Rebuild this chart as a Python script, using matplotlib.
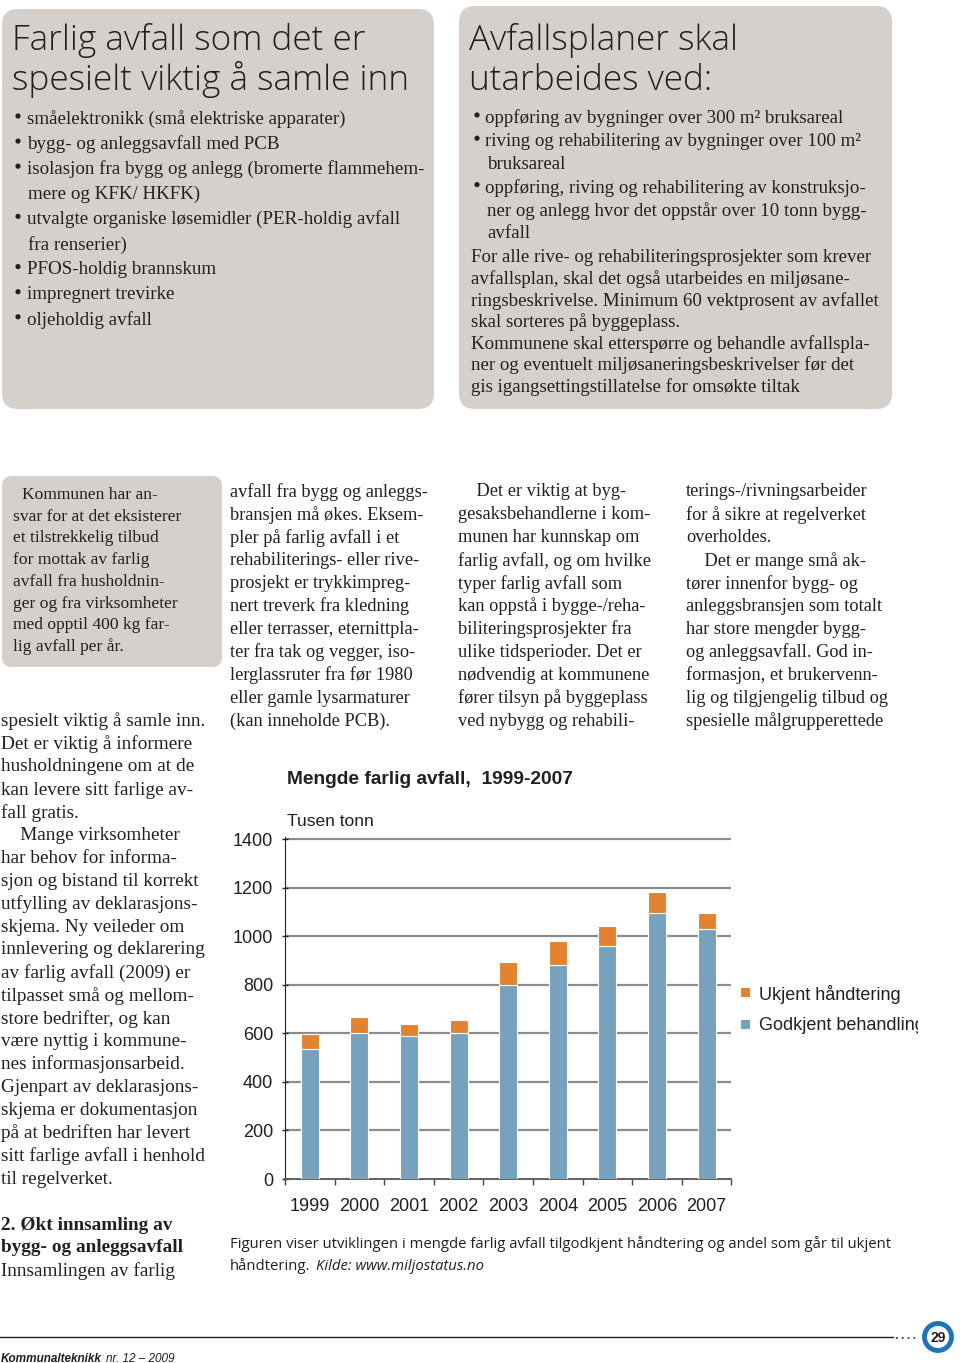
import matplotlib
matplotlib.use("Agg")
import matplotlib.pyplot as plt
import numpy as np
from matplotlib.patches import FancyBboxPatch, Rectangle, Circle
from matplotlib.transforms import Bbox, TransformedBbox

# chart data (tusen tonn)
years = ['1999', '2000', '2001', '2002', '2003', '2004', '2005', '2006', '2007']
godkjent = [535, 602, 590, 600, 800, 882, 960, 1097, 1028]
ukjent = [63, 66, 50, 54, 95, 97, 82, 83, 69]
yticks = [0, 200, 400, 600, 800, 1000, 1200, 1400]

chart_title = 'Mengde farlig avfall,  1999-2007'
unit_label = 'Tusen tonn'
legend_labels = ['Ukjent håndtering', 'Godkjent behandling']

box1_title = ['Farlig avfall som det er', 'spesielt viktig å samle inn']
box1_items = [
    ['småelektronikk (små elektriske apparater)'],
    ['bygg- og anleggsavfall med PCB'],
    ['isolasjon fra bygg og anlegg (bromerte flammehem-', 'mere og KFK/ HKFK)'],
    ['utvalgte organiske løsemidler (PER-holdig avfall', 'fra renserier)'],
    ['PFOS-holdig brannskum'],
    ['impregnert trevirke'],
    ['oljeholdig avfall'],
]

box2_title = ['Avfallsplaner skal', 'utarbeides ved:']
box2_items = [
    ['oppføring av bygninger over 300 m² bruksareal'],
    ['riving og rehabilitering av bygninger over 100 m²', 'bruksareal'],
    ['oppføring, riving og rehabilitering av konstruksjo-',
     'ner og anlegg hvor det oppstår over 10 tonn bygg-', 'avfall'],
]
box2_text = [
    'For alle rive- og rehabiliteringsprosjekter som krever',
    'avfallsplan, skal det også utarbeides en miljøsane-',
    'ringsbeskrivelse. Minimum 60 vektprosent av avfallet',
    'skal sorteres på byggeplass.',
    'Kommunene skal etterspørre og behandle avfallspla-',
    'ner og eventuelt miljøsaneringsbeskrivelser før det',
    'gis igangsettingstillatelse for omsøkte tiltak',
]

box3_text = [
    'Kommunen har an-', 'svar for at det eksisterer', 'et tilstrekkelig tilbud',
    'for mottak av farlig', 'avfall fra husholdnin-', 'ger og fra virksomheter',
    'med opptil 400 kg far-', 'lig avfall per år.',
]

col1_text = [
    'spesielt viktig å samle inn.', 'Det er viktig å informere',
    'husholdningene om at de', 'kan levere sitt farlige av-', 'fall gratis.',
    '\u2003Mange virksomheter', 'har behov for informa-',
    'sjon og bistand til korrekt', 'utfylling av deklarasjons-',
    'skjema. Ny veileder om', 'innlevering og deklarering',
    'av farlig avfall (2009) er', 'tilpasset små og mellom-',
    'store bedrifter, og kan', 'være nyttig i kommune-',
    'nes informasjonsarbeid.', 'Gjenpart av deklarasjons-',
    'skjema er dokumentasjon', 'på at bedriften har levert',
    'sitt farlige avfall i henhold', 'til regelverket.',
]
col1_head = ['2. Økt innsamling av', 'bygg- og anleggsavfall']
col1_tail = 'Innsamlingen av farlig'

col2_text = [
    'avfall fra bygg og anleggs-', 'bransjen må økes. Eksem-',
    'pler på farlig avfall i et', 'rehabiliterings- eller rive-',
    'prosjekt er trykkimpreg-', 'nert treverk fra kledning',
    'eller terrasser, eternittpla-', 'ter fra tak og vegger, iso-',
    'lerglassruter fra før 1980', 'eller gamle lysarmaturer',
    '(kan inneholde PCB).',
]
col3_text = [
    '\u2003Det er viktig at byg-', 'gesaksbehandlerne i kom-',
    'munen har kunnskap om', 'farlig avfall, og om hvilke',
    'typer farlig avfall som', 'kan oppstå i bygge-/reha-',
    'biliteringsprosjekter fra', 'ulike tidsperioder. Det er',
    'nødvendig at kommunene', 'fører tilsyn på byggeplass',
    'ved nybygg og rehabili-',
]
col4_text = [
    'terings-/rivningsarbeider', 'for å sikre at regelverket',
    'overholdes.', '\u2003Det er mange små ak-', 'tører innenfor bygg- og',
    'anleggsbransjen som totalt', 'har store mengder bygg-',
    'og anleggsavfall. God in-', 'formasjon, et brukervenn-',
    'lig og tilgjengelig tilbud og', 'spesielle målgrupperettede',
]

caption = ['Figuren viser utviklingen i mengde farlig avfall tilgodkjent håndtering og andel som går til ukjent',
           'håndtering.']
source = 'Kilde: www.miljostatus.no'

W, H = 960, 1363
INK = '#231f20'
BOX = '#d6d0cd'
ORANGE = '#e3832f'
BLUE = '#76a2be'
SERIF = 'Liberation Serif'
SANS = 'Liberation Sans'
HEAD = 'Open Sans'

fig = plt.figure(figsize=(W / 100, H / 100), dpi=100)
bg = fig.add_axes([0, 0, 1, 1])
bg.set_xlim(0, W)
bg.set_ylim(H, 0)
bg.axis('off')


def txt(x, y, s, size=12, family=SERIF, va='center_baseline', **kw):
    return bg.text(x, y, s, fontsize=size, family=family, va=va, color=INK, **kw)


def rbox(x0, y0, x1, y1, r):
    bg.add_patch(FancyBboxPatch((x0 + r, y0 + r), x1 - x0 - 2 * r, y1 - y0 - 2 * r,
                                boxstyle='round,pad=%d' % r, fc=BOX, ec='none'))


def dot(x, y):
    bg.add_patch(Circle((x, y), 2.6, fc=INK, ec='none'))


# --- grey boxes
rbox(2, 9, 434, 409, 16)
rbox(459, 6, 892, 409, 16)
rbox(2, 476, 222, 667, 10)

# box 1
for i, line in enumerate(box1_title):
    txt(12, 50 + 40 * i, line, size=25.4, family=HEAD, va='baseline', fontweight='light')
y = 117
for item in box1_items:
    dot(18, y - 1)
    for j, line in enumerate(item):
        txt(27 if j == 0 else 28, y, line, size=13.7)
        y += 25.1

# box 2
for i, line in enumerate(box2_title):
    txt(469, 50 + 40 * i, line, size=25.4, family=HEAD, va='baseline', fontweight='light')
y = 116
for item in box2_items:
    dot(477, y - 1)
    for j, line in enumerate(item):
        txt(485 if j == 0 else 487, y, line, size=13.6)
        y += 23.2
for i, line in enumerate(box2_text):
    txt(471, 256 + 21.5 * i, line, size=13.6)

# box 3
for i, line in enumerate(box3_text):
    txt(22 if i == 0 else 13, 493 + 21.7 * i, line, size=12.6)

# body columns
for i, line in enumerate(col1_text):
    txt(1, 719 + 22.9 * i, line, size=13.9)
for i, line in enumerate(col1_head):
    txt(1, 1223 + 23 * i, line, size=13.9, fontweight='bold')
txt(1, 1269, col1_tail, size=13.9)

for x0, lines in [(230, col2_text), (458, col3_text), (686, col4_text)]:
    for i, line in enumerate(lines):
        txt(x0, 490 + 22.9 * i, line, size=13.2)

# caption
txt(230, 1242, caption[0], size=10.7, family=HEAD)
txt(230, 1264, caption[1], size=10.7, family=HEAD)
txt(316, 1264, source, size=10.7, family=HEAD, style='italic')

# footer
bg.plot([0, 893], [1337, 1337], color=INK, lw=1.0)
bg.plot([896, 918], [1338, 1338], color=INK, lw=1.2, ls=(0, (1, 2.5)))
bg.add_patch(Circle((938, 1337), 13.5, fc='white', ec='#1b75bb', lw=3.5))
txt(938, 1338, '29', size=10, family=SANS, va='center', ha='center', fontweight='bold')
txt(1, 1357, 'Kommunalteknikk', size=8.5, family=SANS, fontweight='bold', style='italic')
txt(106, 1357, 'nr. 12 – 2009', size=8.5, family=SANS, style='italic')

# chart title, unit, legend
txt(287, 777, chart_title, size=13.8, family=SANS, fontweight='bold')
txt(287, 820, unit_label, size=12.5, family=SANS)
clip = TransformedBbox(Bbox([[0, 0], [918, H]]), bg.transData)
for k, (lab, col) in enumerate(zip(legend_labels, [ORANGE, BLUE])):
    yy = 992 + 32 * k
    bg.add_patch(Rectangle((741, yy - 4.5), 9, 9, fc=col, ec='none'))
    lt = txt(759, yy, lab, size=13, family=SANS)
    lt.set_clip_box(clip)
    lt.set_clip_on(True)

# --- the bar chart
x_left, x_right = 285, 285 + 9 * 49.6
y_zero = 1179
ppu = 340 / 1400
ytop = 1410
ax = fig.add_axes([x_left / W, 1 - y_zero / H, (x_right - x_left) / W, ytop * ppu / H])
ax.patch.set_alpha(0)
x = np.arange(len(years))
ax.bar(x, godkjent, width=0.36, color=BLUE, edgecolor='white', linewidth=0.8, zorder=3)
ax.bar(x, ukjent, width=0.36, bottom=godkjent, color=ORANGE, edgecolor='white',
       linewidth=0.8, zorder=3)
ax.set_xlim(-0.5, len(years) - 0.5)
ax.set_ylim(0, ytop)
ax.set_yticks(yticks)
ax.set_yticklabels([str(v) for v in yticks], family=SANS, fontsize=13, color=INK)
ax.set_xticks(x)
ax.set_xticklabels(years, family=SANS, fontsize=13, color=INK)
ax.set_xticks(np.arange(len(years) + 1) - 0.5, minor=True)
ax.tick_params(axis='x', which='major', length=0, pad=14)
ax.tick_params(axis='x', which='minor', length=4, width=1, color='#444444', direction='out')
ax.tick_params(axis='y', length=5, width=1, color='#222222', direction='inout', pad=6)
for v in yticks[1:]:
    ax.axhline(v, color='#8c8c8c', lw=1.6, zorder=1)
for s in ['top', 'right']:
    ax.spines[s].set_visible(False)
ax.spines['left'].set_color('#222222')
ax.spines['bottom'].set_color('#555555')
ax.spines['bottom'].set_linewidth(1.3)

fig.savefig('out.png', dpi=100)
